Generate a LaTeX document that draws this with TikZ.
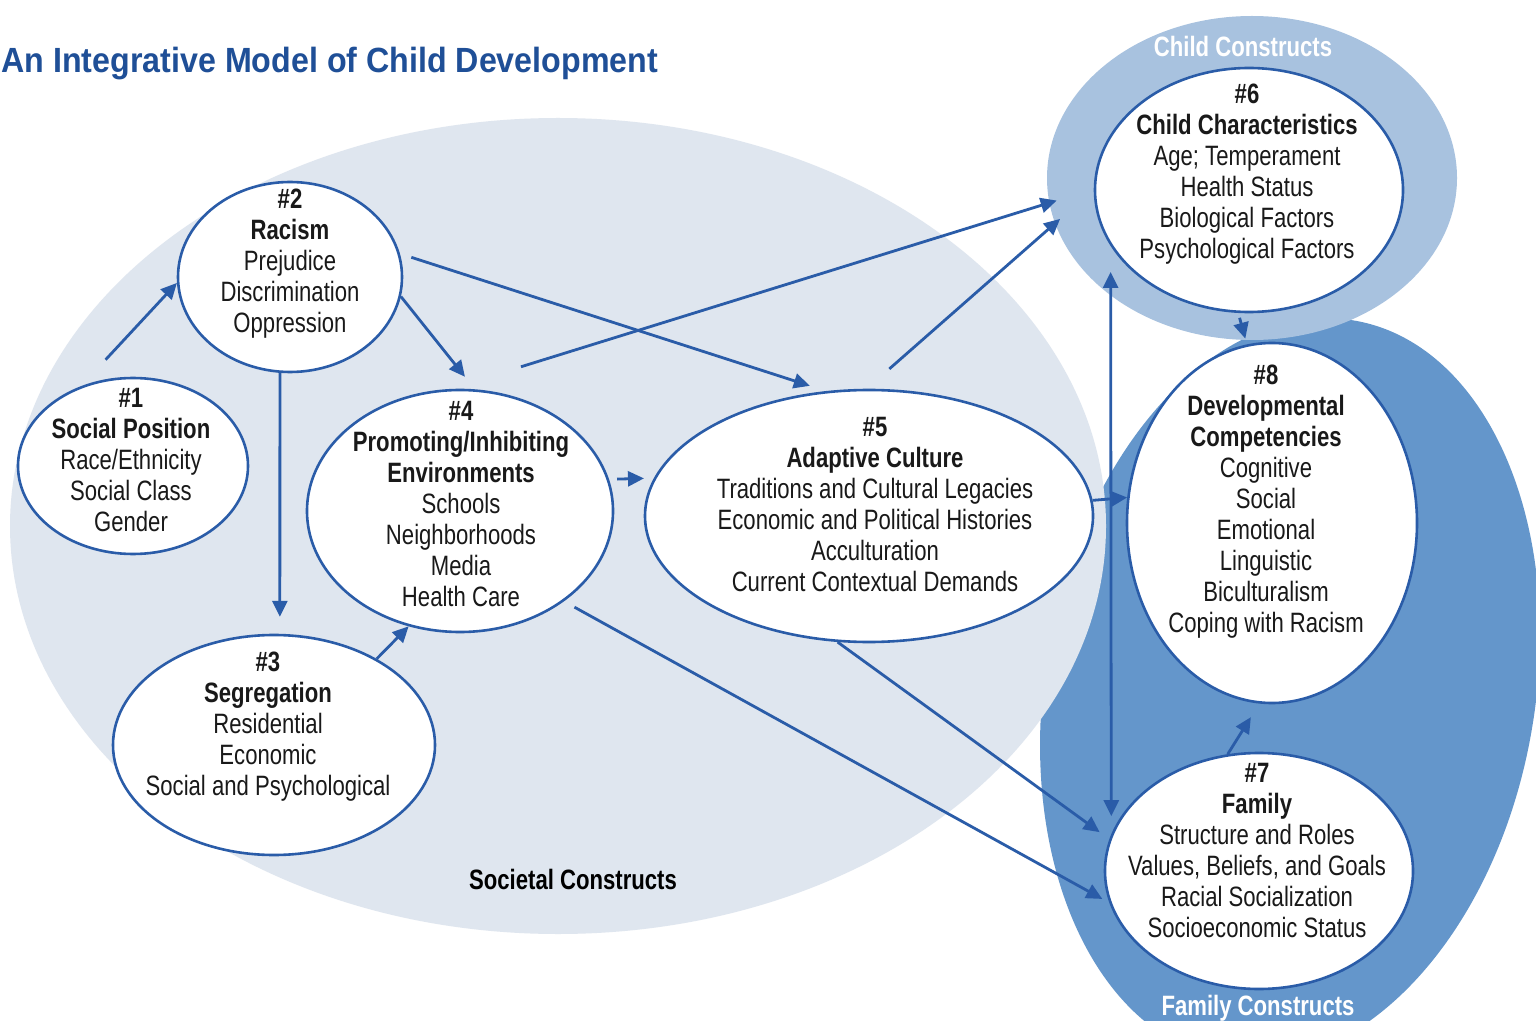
\documentclass[tikz,border=0pt]{standalone}
\usepackage{fontspec}
\setmainfont{Liberation Sans}[FakeStretch=0.79]
\newfontfamily\titlefont{Liberation Sans}[FakeStretch=0.92]
\usetikzlibrary{shapes.geometric,arrows.meta}
\definecolor{ttl}{HTML}{1F4F97}
\definecolor{edge}{HTML}{2A5CA8}
\definecolor{socbg}{HTML}{DFE6EF}
\definecolor{ccbg}{HTML}{A8C2DF}
\definecolor{fambg}{HTML}{6496CB}
\tikzset{
  box/.style={ellipse, draw=edge, line width=1.3pt, fill=white, inner sep=0pt},
  area/.style={ellipse, inner sep=0pt},
  txt/.style={align=center, inner sep=0pt, text=black!90, font=\fontsize{14}{15.5}\selectfont},
  lbl/.style={inner sep=0pt, font=\bfseries\fontsize{14}{15.5}\selectfont},
  arr/.style={draw=edge, line width=1.4pt, -{Triangle[length=8pt,width=7.5pt]}},
  dbl/.style={draw=edge, line width=1.4pt, {Triangle[length=8pt,width=7.5pt]}-{Triangle[length=8pt,width=7.5pt]}},
}
\begin{document}
\begin{tikzpicture}[x=0.5pt,y=-0.5pt]
\useasboundingbox (0,0) rectangle (1536,1021);
\clip (0,0) rectangle (1536,1021);
\fill[white] (0,0) rectangle (1536,1021);

% construct areas
\node[area, fill=fambg, minimum width=245pt, minimum height=375pt, rotate=-10] (fam) at (1290,690) {};
\node[area, fill=socbg, minimum width=548pt, minimum height=408pt] (soc) at (558,526) {};
\node[area, fill=ccbg, minimum width=205pt, minimum height=162pt] (cc) at (1252,178) {};

% title
\node[anchor=base west, inner sep=0pt, text=ttl, font=\titlefont\bfseries\fontsize{17.5}{20}\selectfont] (title) at (1,73) {An Integrative Model of Child Development};

% construct nodes
\node[box, minimum width=115pt, minimum height=88pt]  (n1) at (133,466) {};
\node[box, minimum width=112pt, minimum height=95pt]  (n2) at (290,277) {};
\node[box, minimum width=161pt, minimum height=110pt] (n3) at (274,745) {};
\node[box, minimum width=153pt, minimum height=121pt] (n4) at (460,511) {};
\node[box, minimum width=224pt, minimum height=126pt] (n5) at (869,516) {};
\node[box, minimum width=154pt, minimum height=122pt] (n6) at (1249,190) {};
\node[box, minimum width=145pt, minimum height=180pt] (n8) at (1272,523) {};
\node[box, minimum width=154pt, minimum height=118pt] (n7) at (1259,871) {};

% connectors
\draw[arr, shorten <=18pt] (n1.123.3) -- (n2.183);
\draw[arr, shorten >=8pt] (n2.-10) -- (n4.83);
\draw[arr, shorten >=8.5pt] (n2.-96) -- (n3.87);
\draw[arr, shorten <=6pt, shorten >=8.5pt] (n2.12.7) -- (n5.109);
\draw[arr, shorten <=37.5pt, shorten >=-4pt] (n4.95) -- (cc.187);
\draw[arr, shorten <=15pt, shorten >=-3.5pt] (n5.91) -- (cc.193);
\draw[arr] (n3.40) -- (n4.246);
\draw[arr, shorten <=4pt, shorten >=5pt] (n4.12) -- (n5.170);
\draw[arr, shorten <=6pt, shorten >=4pt] (n4.-41.7) -- (n7.192);
\draw[arr, shorten >=6pt] (n5.256.9) -- (n7.168);
\draw[dbl, shorten <=9pt, shorten >=13pt] (n7.166.5) -- (n6.202);
\draw[arr] (n5.4.1) -- (n8.170.9);
\draw[arr, shorten <=2.5pt, shorten >=3pt] (n6.265.8) -- (n8.98.7);
\draw[arr, shorten >=8pt] (n7.105) -- (n8.266.5);

% texts
\node[txt] (t1) at (131,460) {\textbf{\#1}\\\textbf{Social Position}\\Race/Ethnicity\\Social Class\\Gender};
\node[txt] (t2) at (290,263.5) {\textbf{\#2}\\\textbf{Racism}\\Prejudice\\Discrimination\\Oppression};
\node[txt] (t3) at (268,727) {\textbf{\#3}\\\textbf{Segregation}\\Residential\\Economic\\Social and Psychological};
\node[txt] (t4) at (461,504) {\textbf{\#4}\\\textbf{Promoting/Inhibiting}\\\textbf{Environments}\\Schools\\Neighborhoods\\Media\\Health Care};
\node[txt] (t5) at (875,505) {\textbf{\#5}\\\textbf{Adaptive Culture}\\Traditions and Cultural Legacies\\Economic and Political Histories\\Acculturation\\Current Contextual Demands};
\node[txt] (t6) at (1247,174) {\textbf{\#6}\\\textbf{Child Characteristics}\\Age; Temperament\\Health Status\\Biological Factors\\Psychological Factors};
\node[txt] (t8) at (1266,502) {\textbf{\#8}\\\textbf{Developmental}\\\textbf{Competencies}\\Cognitive\\Social\\Emotional\\Linguistic\\Biculturalism\\Coping with Racism};
\node[txt] (t7) at (1257,850) {\textbf{\#7}\\\textbf{Family}\\Structure and Roles\\Values, Beliefs, and Goals\\Racial Socialization\\Socioeconomic Status};

% area labels
\node[lbl, text=white] (lcc) at (1243,46) {Child Constructs};
\node[lbl, text=white] (lfam) at (1258,1008) {Family Constructs};
\node[lbl, text=black] (lsoc) at (573,879) {Societal Constructs};
\end{tikzpicture}
\end{document}
